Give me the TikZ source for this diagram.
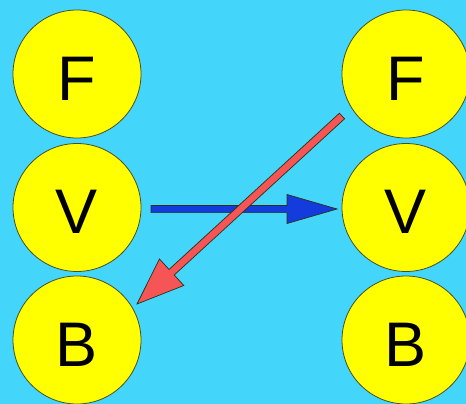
\documentclass[tikz,border=0pt]{standalone}
\usepackage{fontspec}
\setmainfont{Liberation Sans}
\usetikzlibrary{calc}
\definecolor{bgc}{RGB}{68,214,250}
\definecolor{ball}{RGB}{255,255,0}
\definecolor{rim}{RGB}{70,80,40}
\definecolor{bluearr}{RGB}{20,60,220}
\definecolor{redarr}{RGB}{245,85,85}
\begin{document}
\begin{tikzpicture}[x=1pt,y=-1pt,
  ballnode/.style={circle,draw=rim,line width=0.8pt,fill=ball,minimum size=128pt,inner sep=0pt,
    text height=52pt,text depth=0pt,font=\fontsize{63}{63}\selectfont},
  arrowshape/.style={draw=rim!60!black,line width=0.7pt,line join=miter}]
\fill[bgc] (0,0) rectangle (466,404);
\useasboundingbox (0,0) rectangle (466,404);
\node[ballnode] (lF) at (77,74) {F};
\node[ballnode] (lV) at (77,207.5) {V};
\node[ballnode] (lB) at (77,340) {B};
\node[ballnode] (rF) at (406,74) {F};
\node[ballnode] (rV) at (406,207.5) {V};
\node[ballnode] (rB) at (406,340) {B};
% blue arrow
\coordinate (bt) at (151,209);
\coordinate (bh) at (337,209);
\coordinate (bb) at ($(bh)!50pt!(bt)$);
\filldraw[arrowshape,fill=bluearr]
  ($(bt)!3.6pt!90:(bh)$) -- ($(bb)!3.6pt!-90:(bt)$) -- ($(bb)!14.5pt!-90:(bt)$) -- (bh)
  -- ($(bb)!14.5pt!90:(bt)$) -- ($(bb)!3.6pt!90:(bt)$) -- ($(bt)!3.6pt!-90:(bh)$) -- cycle;
% red arrow
\coordinate (rt) at (342,116);
\coordinate (rh) at (137,304);
\coordinate (rb) at ($(rh)!47pt!(rt)$);
\filldraw[arrowshape,fill=redarr]
  ($(rt)!3.8pt!90:(rh)$) -- ($(rb)!3.8pt!-90:(rt)$) -- ($(rb)!18pt!-90:(rt)$) -- (rh)
  -- ($(rb)!18pt!90:(rt)$) -- ($(rb)!3.8pt!90:(rt)$) -- ($(rt)!3.8pt!-90:(rh)$) -- cycle;
\end{tikzpicture}
\end{document}
